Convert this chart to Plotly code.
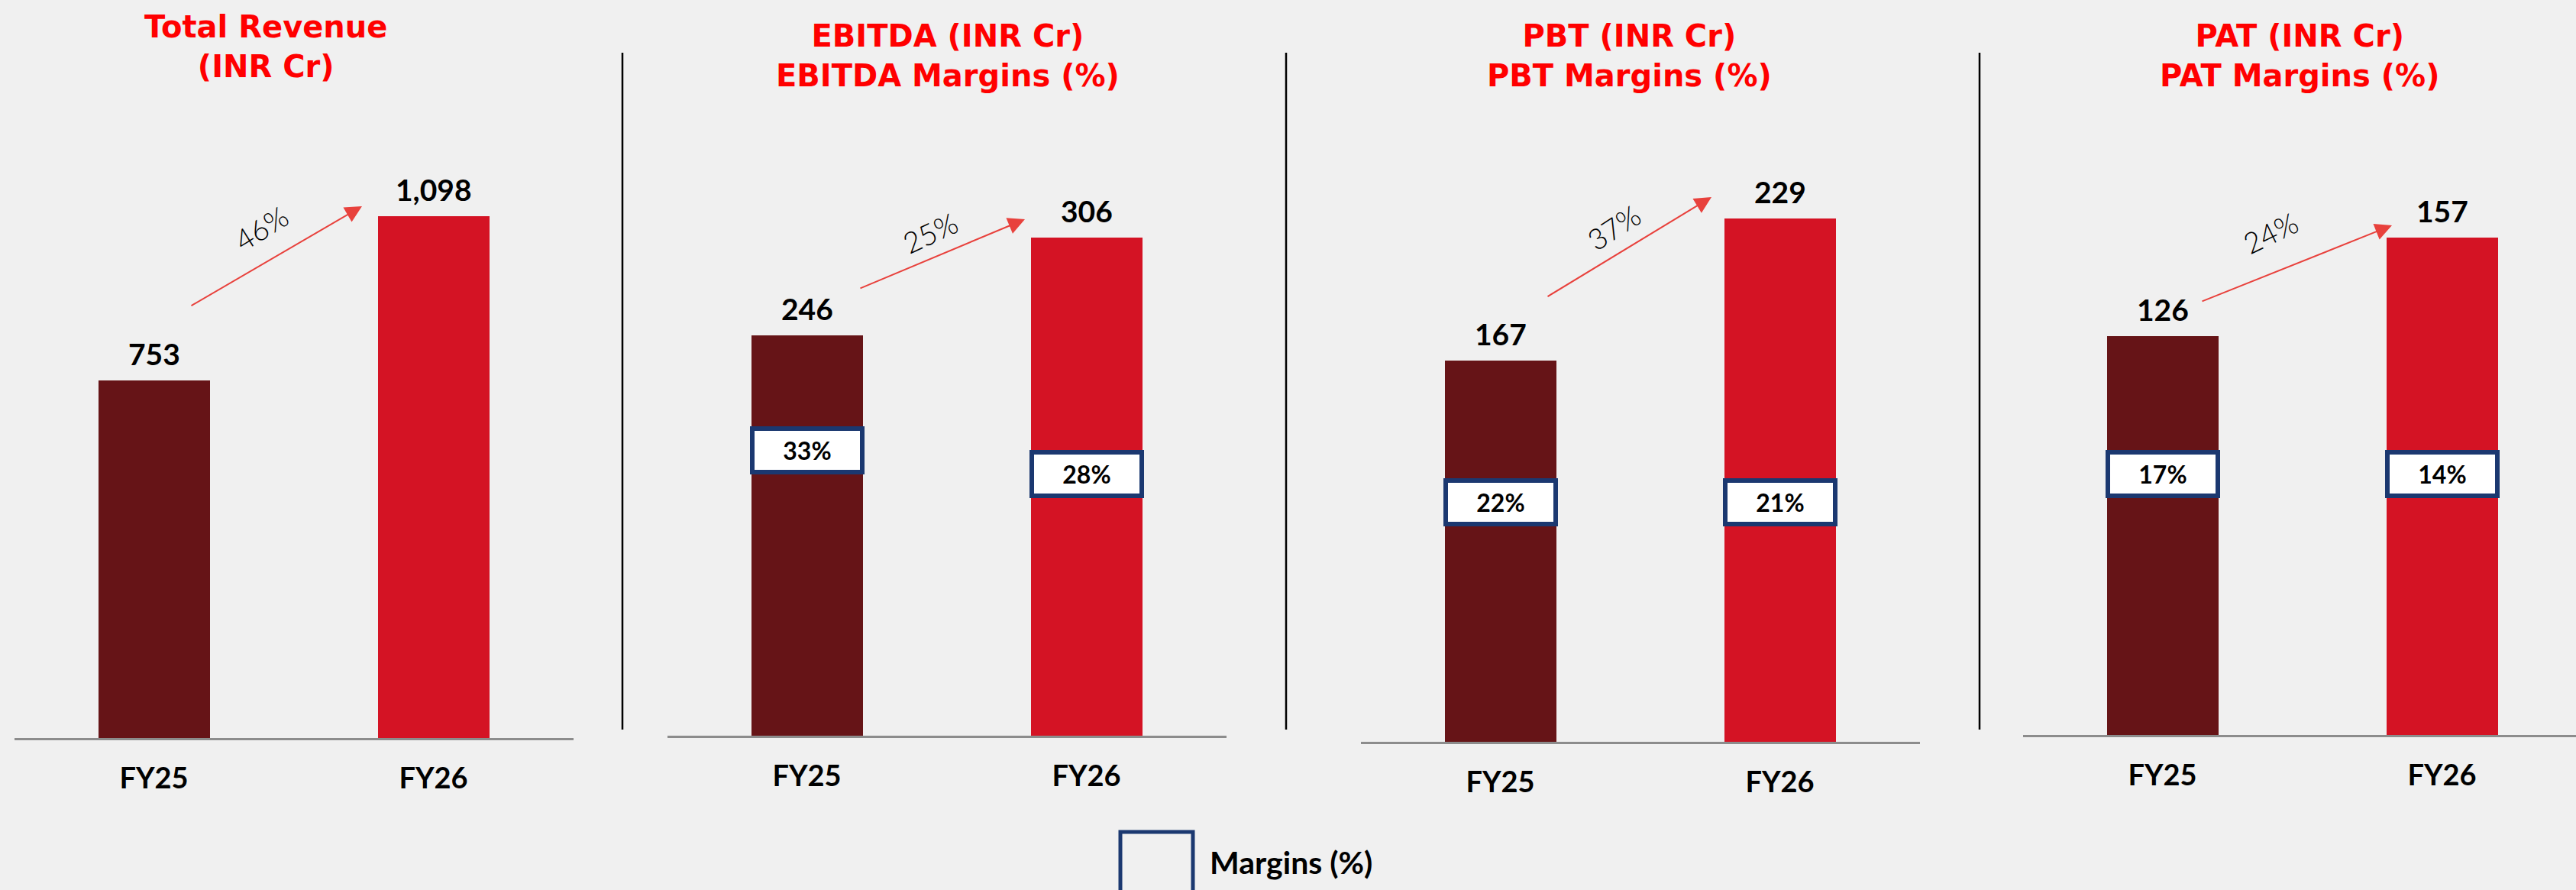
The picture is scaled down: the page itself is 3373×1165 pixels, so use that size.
import plotly.graph_objects as go

W, H = 3373, 1165

# ---------------- data ----------------
years = ["FY25", "FY26"]
revenue = [753, 1098]
ebitda = [246, 306]
pbt = [167, 229]
pat = [126, 157]
ebitda_margin = [33, 28]
pbt_margin = [22, 21]
pat_margin = [17, 14]
growth = [46, 25, 37, 24]
titles = [
    "Total Revenue<br>(INR Cr)",
    "EBITDA (INR Cr)<br>EBITDA Margins (%)",
    "PBT (INR Cr)<br>PBT Margins (%)",
    "PAT (INR Cr)<br>PAT Margins (%)",
]
series = [revenue, ebitda, pbt, pat]
margins = [None, ebitda_margin, pbt_margin, pat_margin]

# ---------------- styling / layout constants ----------------
BG = "#F0F0F0"
C_FY25 = "#661417"
C_FY26 = "#D41324"
NAVY = "#1B3870"
TITLE_RED = "#FF0000"
ARROW_RED = "#E8413C"
FONT = "Lato"
TITLE_FONT = "DejaVu Sans"

# per panel layout (pixel units)
first_center = [201.5, 1056.5, 1964.5, 2831.5]   # pixel centre of FY25 bar
step = 366.0                                       # pixels between bar centres
base_px = [966, 963, 971, 962]                     # baseline pixel
scale = [0.622, 2.13, 2.99, 4.145]                 # px per unit
plot_top = 150
title_pos = [(348, 61), (1241, 73), (2133, 73), (3011, 73)]
arrows = [((249, 401), (474, 270)), ((1125, 378), (1342, 287)),
          ((2025, 389), (2241, 258)), ((2882, 395), (3132, 295))]
growth_pos = [(342, 298, -32), (1218, 304, -25), (2113, 297, -33), (2973, 304, -26)]
box_center_px = [None, (589.5, 620), (657.5, 657.5), (620.5, 620.5)]
dividers_x = [815, 1684, 2592]


def PX(x):
    return x / W


def PY(y):
    return 1 - y / H


fig = go.Figure()
annotations = []
shapes = []

for i in range(4):
    ax_id = "" if i == 0 else str(i + 1)
    left = first_center[i] - step / 2
    right = min(first_center[i] + step * 1.5, W)
    xr = [-0.5, -0.5 + (right - left) / step]
    yr_top = (base_px[i] - plot_top) / scale[i]

    fig.add_trace(go.Bar(
        x=years, y=series[i],
        marker=dict(color=[C_FY25, C_FY26], line=dict(width=0)),
        width=0.4,
        xaxis="x" + ax_id, yaxis="y" + ax_id,
        showlegend=False, hoverinfo="x+y",
    ))

    fig.update_layout(**{
        "xaxis" + ax_id: dict(
            domain=[PX(left), PX(right)], range=xr, anchor="y" + ax_id,
            showline=True, linecolor="#8C8C8C", linewidth=3,
            showgrid=False, zeroline=False, ticks="",
            tickfont=dict(family=FONT, size=38, color="black", weight="bold"),
            ticklabelstandoff=17, fixedrange=True,
        ),
        "yaxis" + ax_id: dict(
            domain=[PY(base_px[i]), PY(plot_top)], range=[0, yr_top],
            anchor="x" + ax_id, visible=False, showgrid=False, zeroline=False,
            fixedrange=True,
        ),
    })

    # value labels
    for j, v in enumerate(series[i]):
        annotations.append(dict(
            x=j, y=v, xref="x" + ax_id, yref="y" + ax_id,
            text=f"{v:,}", showarrow=False, yanchor="middle", yshift=35,
            font=dict(family=FONT, size=39, color="black", weight="bold"),
        ))

    # titles
    tx, ty = title_pos[i]
    annotations.append(dict(
        x=PX(tx), y=PY(ty), xref="paper", yref="paper", text=titles[i],
        showarrow=False, xanchor="center", yanchor="middle",
        font=dict(family=TITLE_FONT, size=40, color=TITLE_RED, weight="bold"),
    ))

    # growth arrow
    (sx, sy), (ex, ey) = arrows[i]
    annotations.append(dict(
        x=PX(ex), y=PY(ey), xref="paper", yref="paper",
        ax=sx - ex, ay=sy - ey, axref="pixel", ayref="pixel",
        text="", showarrow=True, arrowhead=2, arrowsize=2.2,
        arrowwidth=2, arrowcolor=ARROW_RED, standoff=0,
    ))
    gx, gy, ga = growth_pos[i]
    annotations.append(dict(
        x=PX(gx), y=PY(gy), xref="paper", yref="paper",
        text=f"{growth[i]}%", showarrow=False, textangle=ga,
        xanchor="center", yanchor="middle",
        font=dict(family=FONT, size=38, color="black", weight=300),
    ))

    # margin boxes
    if margins[i] is not None:
        for j, m in enumerate(margins[i]):
            annotations.append(dict(
                x=j, xref="x" + ax_id, y=PY(box_center_px[i][j]), yref="paper",
                text=f"{m}%", showarrow=False, xanchor="center", yanchor="middle",
                bgcolor="white", bordercolor=NAVY, borderwidth=6, borderpad=0,
                width=138, height=51,
                font=dict(family=FONT, size=32, color="black", weight="bold"),
            ))

# divider lines
for dx in dividers_x:
    shapes.append(dict(type="line", xref="paper", yref="paper",
                       x0=PX(dx), x1=PX(dx), y0=PY(69), y1=PY(955),
                       line=dict(color="black", width=2.5)))

# legend
shapes.append(dict(type="rect", xref="paper", yref="paper",
                   x0=PX(1467), x1=PX(1562), y0=PY(1089), y1=PY(1185),
                   line=dict(color=NAVY, width=5), fillcolor="rgba(0,0,0,0)"))
annotations.append(dict(
    x=PX(1582), y=PY(1128), xref="paper", yref="paper", text="Margins (%)",
    showarrow=False, xanchor="left", yanchor="middle",
    font=dict(family=FONT, size=41, color="black", weight="bold"),
))

fig.update_layout(
    width=W, height=H,
    margin=dict(l=0, r=0, t=0, b=0),
    paper_bgcolor=BG, plot_bgcolor=BG,
    annotations=annotations, shapes=shapes,
    showlegend=False, bargap=0,
)

fig.write_html(
    "out.html",
    config={"displayModeBar": False},
    post_script="document.body.style.margin='0';document.body.style.overflow='hidden';",
)
